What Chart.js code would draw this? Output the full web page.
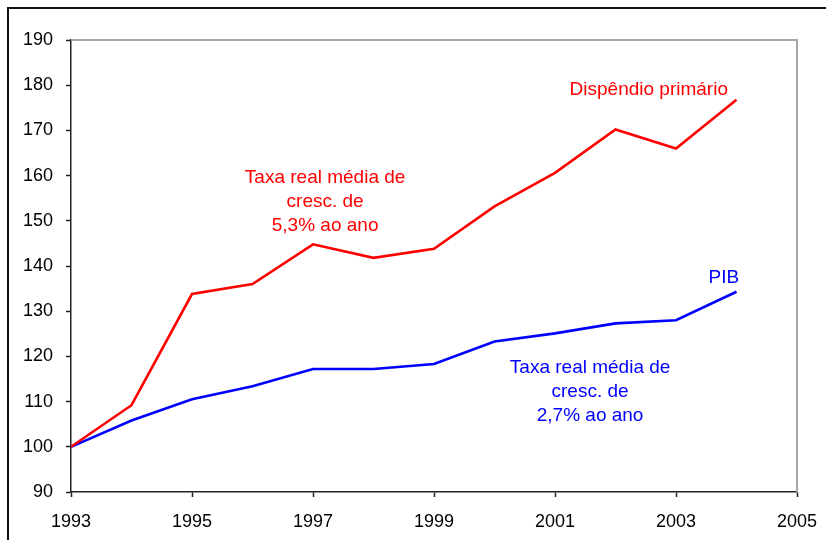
<!DOCTYPE html>
<html>
<head>
<meta charset="utf-8">
<script src="https://cdn.jsdelivr.net/npm/chart.js@4.4.0/dist/chart.umd.min.js"></script>
<style>
  html, body { margin: 0; padding: 0; background: #fff; }
  #wrap { position: relative; width: 826px; height: 540px; overflow: hidden; }
  #frame { position: absolute; left: 7px; top: 7px; width: 900px; height: 600px;
           border-top: 2px solid #111; border-left: 2px solid #111; }
  canvas { position: absolute; left: 0; top: 0; }
</style>
</head>
<body>
<div id="wrap">
  <div id="frame"></div>
  <canvas id="chart" width="826" height="540"></canvas>
</div>
<script>
// data (index 1993 = 100)
var years = [1993, 1994, 1995, 1996, 1997, 1998, 1999, 2000, 2001, 2002, 2003, 2004];
var dispendio = [100, 109.2, 133.8, 136.0, 144.8, 141.8, 143.8, 153.2, 160.6, 170.2, 166.0, 176.8];
var pib = [100, 105.8, 110.5, 113.4, 117.2, 117.2, 118.3, 123.3, 125.1, 127.3, 128.0, 134.3];
var xTicks = [1993, 1995, 1997, 1999, 2001, 2003, 2005];
var yTicks = [90, 100, 110, 120, 130, 140, 150, 160, 170, 180, 190];

var RED = "#ff0000";
var BLUE = "#0000ff";
var FONT = "'Liberation Sans', Arial, sans-serif";

function pairs(vals) {
	var out = [];
	for (var i in years) {
		out.push({x: years[i], y: vals[i]});
	}
	return out;
}

// text labels, anchored in data coordinates
var notes = [
	{x: 1997.2, y: 159.5, lines: ["Taxa real média de", "cresc. de", "5,3% ao ano"], color: RED},
	{x: 2001.58, y: 117.4, lines: ["Taxa real média de", "cresc. de", "2,7% ao ano"], color: BLUE},
	{x: 2002.55, y: 178.9, lines: ["Dispêndio primário"], color: RED},
	{x: 2003.79, y: 137.5, lines: ["PIB"], color: BLUE}
];

var framePlugin = {
	id: "framePlugin",
	beforeDatasetsDraw: function(chart) {
		var a = chart.chartArea, c = chart.ctx;
		c.save();
		c.strokeStyle = "#a6a6a6";
		c.lineWidth = 2;
		c.beginPath();
		c.moveTo(a.left, a.top);
		c.lineTo(a.right, a.top);
		c.lineTo(a.right, a.bottom);
		c.stroke();
		c.restore();
	},
	afterDraw: function(chart) {
		var c = chart.ctx;
		var xs = chart.scales.x, ys = chart.scales.y;
		c.save();
		c.font = "19px " + FONT;
		c.textAlign = "center";
		c.textBaseline = "middle";
		notes.forEach(function(n) {
			var px = xs.getPixelForValue(n.x);
			var py = ys.getPixelForValue(n.y);
			c.fillStyle = n.color;
			n.lines.forEach(function(t, k) {
				c.fillText(t, px, py + k * 24);
			});
		});
		c.restore();
	}
};

var ctx = document.getElementById("chart");

var lineChart = new Chart(ctx, {
	type: "line",
	data: {
		datasets: [
			{
				label: "Dispêndio primário",
				data: pairs(dispendio),
				borderColor: RED,
				borderWidth: 2.6,
				pointRadius: 0,
				tension: 0,
				fill: false
			},
			{
				label: "PIB",
				data: pairs(pib),
				borderColor: BLUE,
				borderWidth: 2.6,
				pointRadius: 0,
				tension: 0,
				fill: false
			}
		]
	},
	options: {
		responsive: false,
		animation: false,
		events: [],
		layout: { padding: { left: 0, right: 29, top: 40, bottom: 0 } },
		plugins: {
			legend: { display: false },
			tooltip: { enabled: false }
		},
		scales: {
			x: {
				type: "linear",
				min: 1993,
				max: 2005,
				afterBuildTicks: function(s) {
					s.ticks = xTicks.map(function(v) { return {value: v}; });
				},
				afterFit: function(s) {
					s.height = 48;
					s.paddingLeft = 0;
					s.paddingRight = 0;
				},
				ticks: {
					color: "#000",
					font: { family: FONT, size: 18 },
					padding: 14,
					maxRotation: 0,
					callback: function(v) { return String(v); }
				},
				grid: {
					drawOnChartArea: false,
					drawTicks: true,
					tickLength: 5,
					tickColor: "#222",
					tickWidth: 1.5
				},
				border: { display: true, color: "#222", width: 1.5 }
			},
			y: {
				min: 90,
				max: 190,
				afterBuildTicks: function(s) {
					s.ticks = yTicks.map(function(v) { return {value: v}; });
				},
				afterFit: function(s) {
					s.width = 71;
					s.paddingTop = 0;
					s.paddingBottom = 0;
				},
				ticks: {
					color: "#000",
					font: { family: FONT, size: 18 },
					padding: 13,
					callback: function(v) { return String(v); }
				},
				grid: {
					drawOnChartArea: false,
					drawTicks: true,
					tickLength: 5,
					tickColor: "#222",
					tickWidth: 1.5
				},
				border: { display: true, color: "#222", width: 1.5 }
			}
		}
	},
	plugins: [framePlugin]
});
</script>
</body>
</html>
